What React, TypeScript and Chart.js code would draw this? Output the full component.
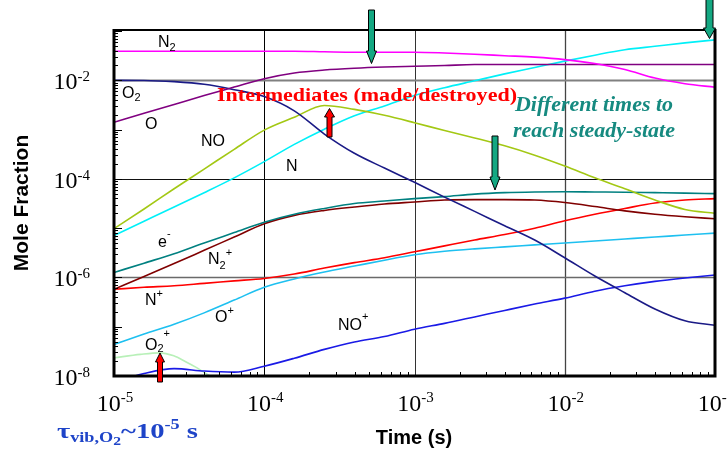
import React, { useEffect, useRef } from 'react';
import { Chart, registerables } from 'chart.js';
Chart.register(...registerables);

// Time grid (s), shared by most species
const times = [1e-5, 1.585e-5, 2.512e-5, 3.981e-5, 6.31e-5, 1e-4, 1.585e-4, 2.512e-4, 3.981e-4, 6.31e-4,
  1e-3, 1.585e-3, 2.512e-3, 3.981e-3, 6.31e-3, 1e-2, 1.585e-2, 2.512e-2, 3.981e-2, 6.31e-2, 1e-1];
const timesO2plus = [1e-5, 1.5e-5, 2e-5, 2.5e-5, 3e-5, 3.5e-5, 4e-5, 5e-5];

// Mole fractions
const N2 = [3.89e-2, 3.89e-2, 3.89e-2, 3.89e-2, 3.89e-2, 3.89e-2, 3.89e-2, 3.80e-2, 3.72e-2, 3.72e-2, 3.72e-2, 3.59e-2, 3.39e-2, 3.16e-2, 2.95e-2, 2.63e-2, 2.19e-2, 1.66e-2, 1.11e-2, 8.51e-3, 7.24e-3];
const O = [1.41e-3, 2.14e-3, 3.24e-3, 4.90e-3, 7.29e-3, 1.08e-2, 1.41e-2, 1.62e-2, 1.76e-2, 1.86e-2, 1.93e-2, 2.00e-2, 2.09e-2, 2.09e-2, 2.09e-2, 2.09e-2, 2.09e-2, 2.09e-2, 2.09e-2, 2.09e-2, 2.09e-2];
const O2 = [1.00e-2, 9.95e-3, 9.40e-3, 8.32e-3, 6.46e-3, 4.68e-3, 2.40e-3, 8.13e-4, 3.31e-4, 1.66e-4, 8.51e-5, 4.27e-5, 2.19e-5, 1.12e-5, 5.75e-6, 2.51e-6, 1.07e-6, 4.90e-7, 2.29e-7, 1.32e-7, 1.07e-7];
const NO = [9.77e-6, 2.45e-5, 6.31e-5, 1.58e-4, 3.98e-4, 9.77e-4, 1.78e-3, 3.09e-3, 2.57e-3, 1.95e-3, 1.38e-3, 9.55e-4, 6.76e-4, 4.68e-4, 3.02e-4, 1.82e-4, 1.05e-4, 6.31e-5, 3.72e-5, 2.40e-5, 2.00e-5];
const N = [7.08e-6, 1.38e-5, 2.69e-5, 5.25e-5, 1.05e-4, 2.24e-4, 5.01e-4, 1.02e-3, 1.91e-3, 3.02e-3, 4.90e-3, 7.08e-3, 9.77e-3, 1.35e-2, 1.82e-2, 2.45e-2, 3.24e-2, 4.17e-2, 4.90e-2, 5.75e-2, 6.61e-2];
const eMinus = [1.26e-6, 1.95e-6, 3.02e-6, 5.01e-6, 8.13e-6, 1.32e-5, 1.91e-5, 2.51e-5, 3.16e-5, 3.55e-5, 3.98e-5, 4.37e-5, 4.90e-5, 5.25e-5, 5.43e-5, 5.50e-5, 5.43e-5, 5.37e-5, 5.25e-5, 5.13e-5, 5.01e-5];
const N2plus = [5.75e-7, 1.05e-6, 1.91e-6, 3.55e-6, 6.61e-6, 1.23e-5, 1.82e-5, 2.29e-5, 2.69e-5, 3.09e-5, 3.39e-5, 3.72e-5, 3.80e-5, 3.80e-5, 3.72e-5, 3.31e-5, 2.75e-5, 2.24e-5, 1.91e-5, 1.70e-5, 1.55e-5];
const Nplus = [5.75e-7, 6.31e-7, 6.76e-7, 7.59e-7, 8.51e-7, 9.55e-7, 1.17e-6, 1.55e-6, 2.00e-6, 2.51e-6, 3.31e-6, 4.37e-6, 5.75e-6, 7.41e-6, 1.00e-5, 1.41e-5, 1.91e-5, 2.51e-5, 3.24e-5, 3.72e-5, 3.98e-5];
const Oplus = [4.37e-8, 7.08e-8, 1.12e-7, 1.91e-7, 3.47e-7, 6.31e-7, 9.33e-7, 1.29e-6, 1.70e-6, 2.24e-6, 2.88e-6, 3.39e-6, 3.80e-6, 4.17e-6, 4.57e-6, 5.01e-6, 5.50e-6, 6.03e-6, 6.61e-6, 7.24e-6, 7.94e-6];
const NOplus = [7.41e-9, 1.12e-8, 1.41e-8, 1.26e-8, 1.20e-8, 1.58e-8, 2.29e-8, 3.47e-8, 4.90e-8, 6.31e-8, 8.91e-8, 1.17e-7, 1.58e-7, 2.14e-7, 2.88e-7, 3.80e-7, 5.25e-7, 6.76e-7, 8.32e-7, 9.77e-7, 1.12e-6];
const O2plus = [2.34e-8, 2.75e-8, 2.95e-8, 2.57e-8, 1.95e-8, 1.51e-8, 1.17e-8, 7.76e-9];

// Axis decades
const xTickExps = [-5, -4, -3, -2, -1];
const yTickExps = [-8, -6, -4, -2];
const xGridExps = [-4, -3, -2];
const yGridExps = [-6, -4, -2];

const SERIF = "'Liberation Serif', 'Times New Roman', serif";
const SANS = "'Liberation Sans', Arial, sans-serif";

type Part = { t: string; s: number; dy: number };

function fontStr(size: number, family: string, weight = '', style = '') {
  return [style, weight, size + 'px', family].filter(Boolean).join(' ');
}

function rich(ctx: CanvasRenderingContext2D, x: number, y: number, parts: Part[],
  o: { family: string; weight?: string; style?: string; color: string; align?: string; width?: number }) {
  let w = 0;
  for (const p of parts) { ctx.font = fontStr(p.s, o.family, o.weight, o.style); w += ctx.measureText(p.t).width; }
  const sx = o.width ? o.width / w : 1;
  const tw = w * sx;
  let left = x;
  if (o.align === 'center') left = x - tw / 2;
  else if (o.align === 'right') left = x - tw;
  ctx.save();
  ctx.translate(left, y);
  ctx.scale(sx, 1);
  ctx.fillStyle = o.color;
  ctx.textAlign = 'left';
  ctx.textBaseline = 'alphabetic';
  let cx = 0;
  for (const p of parts) {
    ctx.font = fontStr(p.s, o.family, o.weight, o.style);
    ctx.fillText(p.t, cx, p.dy);
    cx += ctx.measureText(p.t).width;
  }
  ctx.restore();
}

function arrow(ctx: CanvasRenderingContext2D, cx: number, tail: number, headStart: number, tip: number, sw: number, hw: number, fill: string) {
  ctx.save();
  ctx.beginPath();
  ctx.moveTo(cx - sw / 2, tail);
  ctx.lineTo(cx - sw / 2, headStart);
  ctx.lineTo(cx - hw / 2, headStart);
  ctx.lineTo(cx, tip);
  ctx.lineTo(cx + hw / 2, headStart);
  ctx.lineTo(cx + sw / 2, headStart);
  ctx.lineTo(cx + sw / 2, tail);
  ctx.closePath();
  ctx.fillStyle = fill;
  ctx.fill();
  ctx.strokeStyle = '#000';
  ctx.lineWidth = 1;
  ctx.stroke();
  ctx.restore();
}

const n = (t: string, s = 16): Part => ({ t, s, dy: 0 });
const sub = (t: string, s = 11, dy = 4): Part => ({ t, s, dy });
const sup = (t: string, s = 11, dy = -8): Part => ({ t, s, dy });

const speciesLabels: { x: number; y: number; parts: Part[] }[] = [
  { x: 158, y: 47, parts: [n('N'), sub('2')] },
  { x: 122, y: 97.5, parts: [n('O'), sub('2', 11, 3)] },
  { x: 145, y: 128.5, parts: [n('O')] },
  { x: 201, y: 146, parts: [n('NO')] },
  { x: 286, y: 171, parts: [n('N')] },
  { x: 158, y: 247, parts: [n('e'), sup('-', 11, -10)] },
  { x: 208, y: 263.5, parts: [n('N'), sub('2', 11, 5), sup('+', 11, -8)] },
  { x: 145, y: 305, parts: [n('N'), sup('+', 11, -8)] },
  { x: 215, y: 322, parts: [n('O'), sup('+', 11, -8)] },
  { x: 338, y: 329.5, parts: [n('NO'), sup('+', 11, -10)] },
  { x: 145, y: 350, parts: [n('O'), sub('2', 11, 2), sup('+', 11, -13)] },
];

const overlay = {
  id: 'overlay',
  beforeDraw(chart: any) {
    const ctx = chart.ctx;
    ctx.save();
    ctx.fillStyle = '#fff';
    ctx.fillRect(0, 0, chart.width, chart.height);
    ctx.restore();
  },
  beforeDatasetsDraw(chart: any) {
    const ctx: CanvasRenderingContext2D = chart.ctx;
    const a = chart.chartArea;
    const xs = chart.scales.x, ys = chart.scales.y;
    ctx.save();
    const xStyle: Record<string, [string, number]> = { '-4': ['#000', 1], '-3': ['#333', 1], '-2': ['#444', 1.3] };
    xGridExps.forEach((e) => {
      const px = Math.round(xs.getPixelForValue(Math.pow(10, e))) + 0.5;
      const [c, w] = xStyle[String(e)];
      ctx.strokeStyle = c; ctx.lineWidth = w;
      ctx.beginPath(); ctx.moveTo(px, a.top); ctx.lineTo(px, a.bottom); ctx.stroke();
    });
    const yStyle: Record<string, [string, number]> = { '-2': ['#808080', 2], '-4': ['#111', 1], '-6': ['#6a6a6a', 1.6] };
    yGridExps.forEach((e) => {
      const py = Math.round(ys.getPixelForValue(Math.pow(10, e))) + 0.5;
      const [c, w] = yStyle[String(e)];
      ctx.strokeStyle = c; ctx.lineWidth = w;
      ctx.beginPath(); ctx.moveTo(a.left, py); ctx.lineTo(a.right, py); ctx.stroke();
    });
    ctx.restore();
  },
  afterDatasetsDraw(chart: any) {
    const ctx: CanvasRenderingContext2D = chart.ctx;
    const a = chart.chartArea;
    const xs = chart.scales.x, ys = chart.scales.y;
    ctx.save();
    // minor/major ticks
    ctx.strokeStyle = '#000';
    ctx.lineWidth = 1;
    for (let d = -5; d < -1 + 1e-9; d++) {
      for (let k = 2; k <= 9; k++) {
        const v = k * Math.pow(10, d);
        if (v > 1e-1) continue;
        const px = Math.round(xs.getPixelForValue(v)) + 0.5;
        ctx.beginPath(); ctx.moveTo(px, a.bottom); ctx.lineTo(px, a.bottom - 4); ctx.stroke();
      }
    }
    for (let d = -8; d <= -1; d++) {
      for (let k = 1; k <= 9; k++) {
        const v = k * Math.pow(10, d);
        if (v > ys.max) continue;
        const py = Math.round(ys.getPixelForValue(v)) + 0.5;
        const len = k === 1 ? 8 : 4;
        ctx.beginPath(); ctx.moveTo(a.left, py); ctx.lineTo(a.left + len, py); ctx.stroke();
      }
    }
    // frame
    ctx.strokeStyle = '#000';
    ctx.lineWidth = 2;
    ctx.beginPath(); ctx.moveTo(a.left, a.top); ctx.lineTo(a.right, a.top); ctx.stroke();
    ctx.lineWidth = 3;
    ctx.beginPath(); ctx.moveTo(a.left, a.top - 1); ctx.lineTo(a.left, a.bottom); ctx.lineTo(a.right, a.bottom); ctx.lineTo(a.right, a.top - 1); ctx.stroke();

    // tick labels
    xTickExps.forEach((e) => {
      const px = xs.getPixelForValue(Math.pow(10, e));
      rich(ctx, px + 1, 411, [{ t: '10', s: 24, dy: 0 }, { t: String(e), s: 15, dy: -9 }], { family: SERIF, color: '#000', align: 'center' });
    });
    yTickExps.forEach((e) => {
      const py = ys.getPixelForValue(Math.pow(10, e));
      rich(ctx, 90, py + 9, [{ t: '10', s: 24, dy: 0 }, { t: String(e), s: 15, dy: -8 }], { family: SERIF, color: '#000', align: 'right' });
    });

    // axis titles
    ctx.fillStyle = '#000';
    ctx.font = fontStr(20, SANS, 'bold');
    ctx.textAlign = 'center';
    ctx.textBaseline = 'alphabetic';
    ctx.fillText('Time (s)', 414, 444);
    ctx.save();
    ctx.translate(28, 203);
    ctx.rotate(-Math.PI / 2);
    ctx.font = fontStr(21, SANS, 'bold');
    ctx.fillText('Mole Fraction', 0, 0);
    ctx.restore();

    // species labels
    speciesLabels.forEach((l) => rich(ctx, l.x, l.y, l.parts, { family: SANS, color: '#000' }));

    // annotations
    rich(ctx, 217, 101, [{ t: 'Intermediates (made/destroyed)', s: 19, dy: 0 }], { family: SERIF, weight: 'bold', color: '#ff0000', width: 300 });
    rich(ctx, 515, 110.5, [{ t: 'Different times to', s: 20, dy: 0 }], { family: SERIF, weight: 'bold', style: 'italic', color: '#168a80', width: 158 });
    rich(ctx, 513, 136.5, [{ t: 'reach steady-state', s: 20, dy: 0 }], { family: SERIF, weight: 'bold', style: 'italic', color: '#168a80', width: 162 });
    rich(ctx, 57, 438, [
      { t: 'τ', s: 22, dy: 0 }, { t: 'vib,O', s: 14, dy: 4 }, { t: '2', s: 12, dy: 7 },
      { t: '~10', s: 22, dy: 0 }, { t: '-5', s: 14, dy: -9 }, { t: ' s', s: 22, dy: 0 },
    ], { family: SERIF, weight: 'bold', color: '#1e44c8', width: 141 });

    // arrows
    const green = '#14a882';
    arrow(ctx, 371.5, 10, 51, 63.5, 6, 10, green);
    arrow(ctx, 495, 136, 177, 190, 6, 10, green);
    arrow(ctx, 709.5, -1, 28, 38.5, 7, 12, green);
    arrow(ctx, 329.5, 137, 117, 108.5, 5, 10, '#ff0000');
    arrow(ctx, 160, 382, 362, 353, 5, 9, '#ff0000');
    ctx.restore();
  },
};

const series = [
  { label: 'N2', data: N2, t: times, color: '#ff00ff' },
  { label: 'O', data: O, t: times, color: '#800080' },
  { label: 'O2', data: O2, t: times, color: '#1a1a86' },
  { label: 'NO', data: NO, t: times, color: '#a3c814' },
  { label: 'N', data: N, t: times, color: '#00f0f8' },
  { label: 'e-', data: eMinus, t: times, color: '#008080' },
  { label: 'N2+', data: N2plus, t: times, color: '#800000' },
  { label: 'N+', data: Nplus, t: times, color: '#ff0000' },
  { label: 'O+', data: Oplus, t: times, color: '#1ec0f0' },
  { label: 'NO+', data: NOplus, t: times, color: '#1a1ae6' },
  { label: 'O2+', data: O2plus, t: timesO2plus, color: '#b8f0b8' },
];

export default function App() {
  const ref = useRef<HTMLCanvasElement>(null);
  useEffect(() => {
    if (!ref.current) return;
    const chart = new Chart(ref.current, {
      type: 'line',
      data: {
        datasets: series.map((s) => ({
          label: s.label,
          data: s.data.map((v, i) => ({ x: s.t[i], y: v })),
          borderColor: s.color,
          backgroundColor: s.color,
          borderWidth: 1.6,
          pointRadius: 0,
          fill: false,
          cubicInterpolationMode: 'monotone' as const,
        })),
      },
      options: {
        responsive: false,
        animation: false,
        devicePixelRatio: 1,
        layout: { padding: { left: 114, right: 12, top: 30, bottom: 77 } },
        plugins: { legend: { display: false }, tooltip: { enabled: false }, title: { display: false } },
        scales: {
          x: {
            type: 'logarithmic', min: 1e-5, max: 1e-1,
            ticks: { display: false }, grid: { display: false }, border: { display: false },
            afterFit: (s: any) => { s.height = 0; },
          },
          y: {
            type: 'logarithmic', min: 1e-8, max: 1.05e-1,
            ticks: { display: false }, grid: { display: false }, border: { display: false },
            afterFit: (s: any) => { s.width = 0; },
          },
        },
      } as any,
      plugins: [overlay],
    });
    return () => chart.destroy();
  }, []);
  return (
    <div style={{ position: 'absolute', left: 0, top: 0, width: 727, height: 453 }}>
      <canvas ref={ref} width={727} height={453} style={{ display: 'block' }} />
    </div>
  );
}
